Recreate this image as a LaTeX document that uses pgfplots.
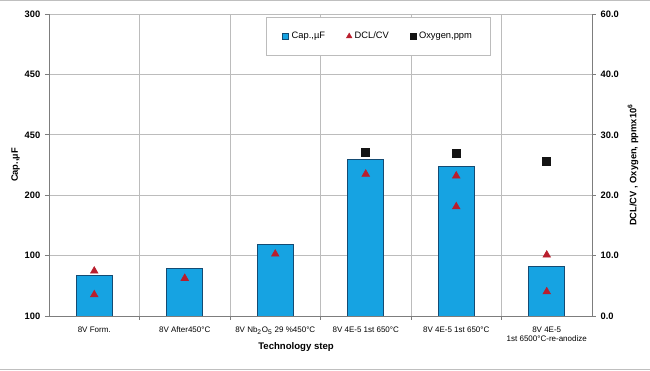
\documentclass[border=0pt]{standalone}
\usepackage{pgfplots}
\pgfplotsset{compat=1.18}
\usepackage{fontspec}
\setmainfont{Liberation Sans}
\definecolor{barblue}{RGB}{22,163,226}
\definecolor{baredge}{RGB}{20,75,115}
\definecolor{tri}{RGB}{185,30,45}
\definecolor{gridc}{RGB}{188,188,188}
\definecolor{axc}{RGB}{125,125,125}
\begin{document}
\begin{tikzpicture}
\begin{axis}[
  scale only axis, width=407.25pt, height=226.5pt,
  xmin=-0.5, xmax=5.5, ymin=0, ymax=50,
  axis x line*=bottom, axis y line*=left,
  axis line style={axc, line width=0.6pt, -},
  xtick={0,1,2,3,4,5},
  xticklabels={8V Form., 8V After450°C, {8V Nb\textsubscript{2}O\textsubscript{5} 29 \%450°C}, 8V 4E-5 1st 650°C, 8V 4E-5 1st 650°C, {8V 4E-5\\1st 6500°C-re-anodize}},
  xticklabel style={font=\fontsize{6}{7}\selectfont, align=center, yshift=-1.5pt},
  minor xtick={0.5,1.5,2.5,3.5,4.5},
  xminorgrids, ymajorgrids,
  grid style={gridc, line width=0.6pt},
  minor grid style={gridc, line width=0.6pt},
  major x tick style={draw=none},
  tick align=outside,
  major tick length=3pt, minor tick length=3pt,
  tick style={axc, line width=0.6pt},
  ytick={0,10,20,30,40,50},
  yticklabels={100,100,200,450,450,300},
  yticklabel style={font=\bfseries\fontsize{7}{8}\selectfont},
  /pgf/number format/assume math mode=true,
  every axis y label/.style={at={(axis description cs:-0.0614,0.5)}, rotate=90, anchor=center},
  ylabel={Cap.,µF},
  ylabel style={font=\bfseries\fontsize{7}{8}\selectfont},
  every axis x label/.style={at={(axis description cs:0.455,-0.103)}, anchor=center},
  xlabel={Technology step},
  xlabel style={font=\bfseries\fontsize{7.2}{8}\selectfont},
  legend style={draw=gridc, fill=white, at={(axis description cs:0.3996,0.99)}, anchor=north west,
    legend columns=3, inner xsep=12pt, inner ysep=9pt, font=\fontsize{7}{8}\selectfont,
    /tikz/every even column/.append style={column sep=14pt}},
]
\addplot[ybar, bar width=27pt, bar shift=0pt, fill=barblue, draw=baredge, line width=0.6pt,
  legend image code/.code={\draw[fill=barblue, draw=baredge, line width=0.5pt] (0pt,-2.3pt) rectangle (4.6pt,2.3pt);}]
  coordinates {(0,6.67) (1,7.83) (2,11.87) (3,25.9) (4,24.7) (5,8.16)};
\addlegendentry{Cap.,µF}
\addplot[only marks, mark=triangle*, mark size=3.3pt, color=tri,
  legend image code/.code={\pgfsetfillcolor{tri}\pgfsetstrokecolor{tri}\pgfmathsetmacro{\pgfplotmarksize}{2.4}\def\pgfplotmarksize{2.4pt}\pgfuseplotmark{triangle*}}]
  coordinates {(0,7.45) (0,3.53) (1,6.24) (2,10.26) (3,23.5) (4,23.2) (4,18.1) (5,10.1) (5,4.02)};
\addlegendentry{DCL/CV}
\addplot[only marks, mark=square*, mark size=3pt, color=black!92,
  legend image code/.code={\fill[black!92] (-2.1pt,-2.1pt) rectangle (2.1pt,2.1pt);}]
  coordinates {(3,27.15) (4,26.9) (5,25.6)};
\addlegendentry{Oxygen,ppm}
\end{axis}
\begin{axis}[
  scale only axis, width=407.25pt, height=226.5pt,
  xmin=-0.5, xmax=5.5, ymin=0, ymax=50,
  axis y line*=right, axis x line=none,
  axis line style={axc, line width=0.6pt, -},
  tick align=outside, major tick length=3pt,
  tick style={axc, line width=0.6pt},
  ytick={0,10,20,30,40,50},
  yticklabels={0.0,10.0,20.0,30.0,40.0,60.0},
  yticklabel style={font=\bfseries\fontsize{7}{8}\selectfont},
  /pgf/number format/assume math mode=true,
  every axis y label/.style={at={(axis description cs:1.0755,0.5)}, rotate=90, anchor=center},
  ylabel={DCL/CV , Oxygen, ppmx10\textsuperscript{6}},
  ylabel style={font=\bfseries\fontsize{7}{8}\selectfont},
]
\addplot[draw=none] coordinates {(0,0)};
\end{axis}
\pgfresetboundingbox
\path[use as bounding box] (-36.75pt,-41.25pt) rectangle (450.75pt,237pt);
\draw[gray!50, line width=1pt] (-36.75pt,236.5pt) -- (450.75pt,236.5pt);
\draw[gray!50, line width=1pt] (-36.75pt,-40pt) -- (450.75pt,-40pt);
\end{tikzpicture}
\end{document}
